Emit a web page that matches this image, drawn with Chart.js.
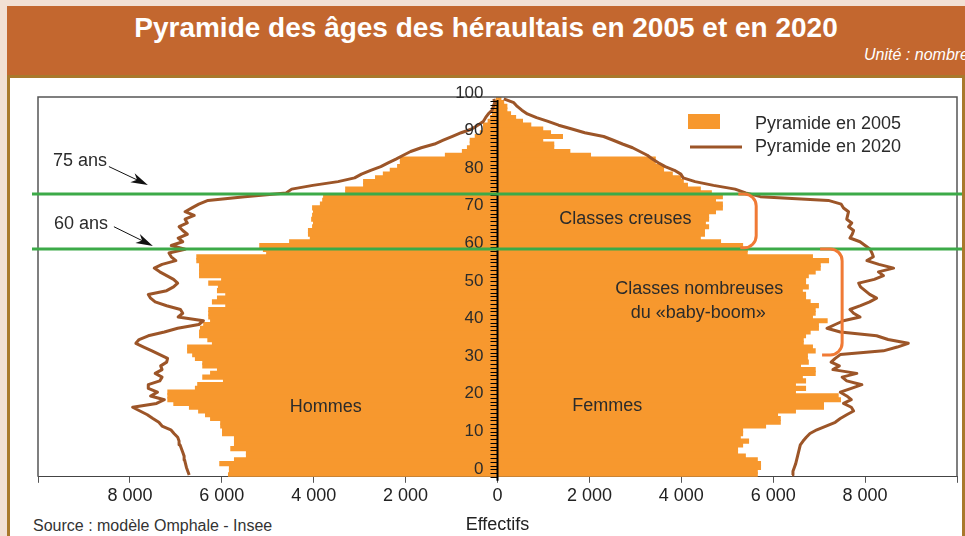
<!DOCTYPE html>
<html lang="fr">
<head>
<meta charset="utf-8">
<title>Pyramide des âges des héraultais en 2005 et en 2020</title>
<script src="https://cdn.jsdelivr.net/npm/chart.js@4.4.1/dist/chart.umd.min.js"></script>
<style>
  html, body { margin: 0; padding: 0; }
  body { width: 965px; height: 536px; background: #f2e0d4; position: relative; overflow: hidden;
         font-family: "Liberation Sans", Arial, sans-serif; }
  #entete { position: absolute; left: 7px; top: 6px; width: 958px; height: 69px; background: #c3672f; color: #fff; }
  #entete h1 { margin: 0; position: absolute; left: 0; right: 0; top: 6px; text-align: center;
               font-size: 28px; font-weight: bold; }
  #unite { position: absolute; right: -4px; top: 40px; font-size: 16px; font-style: italic; white-space: nowrap; }
  #cadre { position: absolute; left: 7px; top: 75px; width: 952px; height: 461px; background: #fff;
           border: 3px solid #a9792c; border-bottom: none; }
  #source { position: absolute; left: 33px; top: 517px; font-size: 16px; color: #333; }
  canvas { position: absolute; left: 0; top: 0; }
</style>
</head>
<body>
<div id="entete">
  <h1>Pyramide des âges des héraultais en 2005 et en 2020</h1>
  <div id="unite">Unité : nombre</div>
</div>
<div id="cadre"></div>
<div id="source">Source : modèle Omphale - Insee</div>
<canvas id="pyramide" width="965" height="536"></canvas>
<script>
// âges 0 à 100 ans
const ages = [0,1,2,3,4,5,6,7,8,9,10,11,12,13,14,15,16,17,18,19,20,21,22,23,24,25,26,27,28,29,
  30,31,32,33,34,35,36,37,38,39,40,41,42,43,44,45,46,47,48,49,50,51,52,53,54,55,56,57,58,59,
  60,61,62,63,64,65,66,67,68,69,70,71,72,73,74,75,76,77,78,79,80,81,82,83,84,85,86,87,88,89,
  90,91,92,93,94,95,96,97,98,99,100];

// Pyramide en 2005 (barres)
const hommes2005 = [5850,5830,5830,6040,5720,5460,5460,5800,5720,5720,
  5720,5980,5980,6020,6020,6240,6350,6500,6700,7040,
  7170,7170,7170,6570,6520,5960,6410,6240,6090,6410,
  6410,6570,6630,6740,6740,6200,6300,6480,6480,6460,
  6390,6240,6280,6280,6280,5910,6200,6090,5910,6090,
  6070,6280,6000,6480,6480,6480,6480,6540,6540,5020,
  5090,5170,4520,4070,4110,4110,4020,4000,4040,4020,
  4000,4020,3850,3800,3780,3300,3300,2910,2910,2650,
  2480,2330,2170,2110,2110,1130,760,650,590,590,
  480,370,300,300,200,150,110,110,90,45,20];
const femmes2005 = [5650,5650,5720,5720,5650,5390,5220,5220,5330,5460,
  5280,5330,5330,5830,6150,6150,6090,6480,7090,7090,
  7460,7410,6480,6700,6480,6700,6630,6910,6910,6590,
  6760,6740,6740,6910,6850,6650,6650,6700,6800,6980,
  6980,7170,6850,6910,6910,6980,6800,6700,6700,6630,
  6760,6700,6700,6760,6910,7020,7020,7200,6850,5430,
  5430,5330,4850,4410,4500,4500,4590,4520,4590,4590,
  4740,4890,4890,4740,4890,4650,4410,4130,4040,3980,
  3800,3610,3610,3430,3430,2020,1570,1220,1220,980,
  1410,1150,980,720,540,390,280,200,200,130,70];

// Pyramide en 2020 (courbes)
const hommes2020 = [6710,6740,6770,6790,6810,6820,6850,6880,6910,6930,
  6960,7040,7110,7300,7370,7500,7620,7780,7940,7420,
  7250,7550,7400,7600,7600,7350,7300,7450,7300,7330,
  7200,7180,7350,7520,7700,7870,7800,7600,7250,6960,
  6500,6400,6950,6850,6900,7200,7450,7550,7600,7200,
  7050,6960,7050,7200,7350,7470,7300,7000,7100,7150,
  6800,7100,6850,6950,6750,6850,6930,6750,6800,6600,
  6800,6650,6500,6300,5500,4600,4480,4020,3470,3110,
  2960,2760,2540,2380,2210,2050,1890,1660,1370,1180,
  980,790,560,430,310,260,200,115,90,60,80];
const femmes2020 = [6410,6430,6460,6490,6510,6530,6550,6570,6590,6650,
  6720,6800,6950,7150,7350,7460,7600,7750,7700,7530,
  7700,7600,7460,7700,7930,7600,7500,7820,7300,7440,
  7260,7350,7460,8400,8700,8940,8500,8250,7460,7170,
  7350,7530,7890,7750,7670,7900,8100,8250,8100,8000,
  7900,7860,8200,8400,8290,8620,8300,8040,8180,8150,
  8110,8000,7890,7670,7720,7750,7640,7710,7600,7620,
  7640,7530,7480,7200,5720,5400,5170,4700,4300,4040,
  3990,3850,3650,3500,3370,3260,3100,2940,2720,2520,
  2310,1900,1620,1330,1100,850,650,530,430,355,137];

// graduations de l'axe des âges
const agesGradues = [0,10,20,30,40,50,60,70,80,90,100];
// lignes vertes "75 ans" et "60 ans" (en âge sur l'axe)
const lignesAges = [74.7, 60.1];

const ORANGE = '#f7982e';
const BRUN = '#9c5528';
const VERT = '#3caa48';
const ACCOLADE = '#f07a35';
const TEXTE = '#2b2b2b';
const POLICE = '"Liberation Sans", Arial, sans-serif';

function millier(n) {
  return String(n).replace(/\B(?=(\d{3})+(?!\d))/g, ' ');
}

const decor = {
  id: 'decor',
  afterDatasetsDraw(chart) {
    const { ctx, chartArea: a, scales: { x, y } } = chart;
    const x0 = x.getPixelForValue(0);
    const px = v => x.getPixelForValue(v);
    const py = v => y.getPixelForValue(v);
    ctx.save();

    // cadre du graphique
    ctx.strokeStyle = '#555';
    ctx.lineWidth = 1.5;
    ctx.beginPath();
    ctx.moveTo(a.left, a.bottom);
    ctx.lineTo(a.left, a.top);
    ctx.lineTo(a.right, a.top);
    ctx.lineTo(a.right, a.bottom);
    ctx.stroke();

    // axe central des âges
    ctx.strokeStyle = '#000';
    ctx.lineWidth = 2;
    ctx.beginPath();
    ctx.moveTo(x0, py(99.7));
    ctx.lineTo(x0, a.bottom + 4);
    ctx.stroke();
    ctx.lineWidth = 1;
    ctx.beginPath();
    for (const age of ages) {
      const t = Math.round(py(age - 0.5)) + 0.5;
      ctx.moveTo(x0 - 7, t);
      ctx.lineTo(x0, t);
    }
    ctx.stroke();
    ctx.fillStyle = TEXTE;
    ctx.font = '17px ' + POLICE;
    ctx.textAlign = 'right';
    ctx.textBaseline = 'middle';
    for (const g of agesGradues) {
      ctx.fillText(String(g), x0 - 14, py(g) - 6);
    }

    // lignes vertes
    ctx.strokeStyle = VERT;
    ctx.lineWidth = 3;
    ctx.beginPath();
    for (const l of lignesAges) {
      ctx.moveTo(a.left - 6, py(l));
      ctx.lineTo(a.right + 5, py(l));
    }
    ctx.stroke();

    // flèches "75 ans" et "60 ans"
    function fleche(v1, a1, v2, a2) {
      const x1 = px(v1), y1 = py(a1), x2 = px(v2), y2 = py(a2);
      const ang = Math.atan2(y2 - y1, x2 - x1);
      ctx.strokeStyle = '#111';
      ctx.fillStyle = '#111';
      ctx.lineWidth = 1;
      ctx.beginPath();
      ctx.moveTo(x1, y1);
      ctx.lineTo(x2 - 12 * Math.cos(ang), y2 - 12 * Math.sin(ang));
      ctx.stroke();
      ctx.beginPath();
      ctx.moveTo(x2, y2);
      ctx.lineTo(x2 - 17 * Math.cos(ang) + 5 * Math.sin(ang), y2 - 17 * Math.sin(ang) - 5 * Math.cos(ang));
      ctx.lineTo(x2 - 12 * Math.cos(ang), y2 - 12 * Math.sin(ang));
      ctx.lineTo(x2 - 17 * Math.cos(ang) - 5 * Math.sin(ang), y2 - 17 * Math.sin(ang) + 5 * Math.cos(ang));
      ctx.closePath();
      ctx.fill();
    }
    fleche(-8457, 82.0, -7609, 77.1);
    fleche(-8348, 66.0, -7500, 60.9);

    // accolades
    function accolade(vDebut, vBord, aHaut, aBas) {
      const xs = px(vDebut), xe = px(vBord), yt = py(aHaut), yb = py(aBas);
      ctx.strokeStyle = ACCOLADE;
      ctx.lineWidth = 3;
      ctx.beginPath();
      ctx.moveTo(xs, yt);
      ctx.arcTo(xe, yt, xe, yb, 12);
      ctx.arcTo(xe, yb, xs, yb, 12);
      ctx.lineTo(xs + 2, yb);
      ctx.stroke();
    }
    accolade(5240, 5630, 74.7, 60.4);
    accolade(7020, 7500, 60.1, 31.9);

    // textes
    ctx.fillStyle = TEXTE;
    ctx.font = '18px ' + POLICE;
    ctx.textAlign = 'center';
    ctx.textBaseline = 'middle';
    ctx.fillText('75 ans', px(-9087), py(83.6));
    ctx.fillText('60 ans', px(-9065), py(66.6));
    ctx.fillText('Hommes', px(-3739), py(18.1));
    ctx.fillText('Femmes', px(2391), py(18.4));
    ctx.fillText('Classes creuses', px(2783), py(68.1));
    ctx.fillText('Classes nombreuses', px(4391), py(49.5));
    ctx.fillText('du «baby-boom»', px(4370), py(43.1));

    // légende
    const lx = a.right - 269, ly = a.top + 17;
    ctx.fillStyle = ORANGE;
    ctx.fillRect(lx, ly, 32, 15);
    ctx.strokeStyle = BRUN;
    ctx.lineWidth = 3;
    ctx.beginPath();
    ctx.moveTo(lx + 2, ly + 33);
    ctx.lineTo(lx + 54, ly + 33);
    ctx.stroke();
    ctx.fillStyle = TEXTE;
    ctx.textAlign = 'left';
    ctx.fillText('Pyramide en 2005', lx + 67, ly + 10);
    ctx.fillText('Pyramide en 2020', lx + 67, ly + 33);

    ctx.restore();
  }
};

new Chart(document.getElementById('pyramide'), {
  type: 'bar',
  data: {
    labels: ages,
    datasets: [
      { type: 'line', label: 'Hommes 2020', data: hommes2020.map(v => -v), borderColor: BRUN,
        borderWidth: 3, pointRadius: 0, fill: false, order: 1, borderJoinStyle: 'round' },
      { type: 'line', label: 'Femmes 2020', data: femmes2020, borderColor: BRUN,
        borderWidth: 3, pointRadius: 0, fill: false, order: 1, borderJoinStyle: 'round' },
      { label: 'Hommes 2005', data: hommes2005.map(v => -v), backgroundColor: ORANGE,
        borderWidth: 0, barPercentage: 1, categoryPercentage: 1, inflateAmount: 0.7, order: 2 },
      { label: 'Femmes 2005', data: femmes2005, backgroundColor: ORANGE,
        borderWidth: 0, barPercentage: 1, categoryPercentage: 1, inflateAmount: 0.7, order: 2 }
    ]
  },
  options: {
    indexAxis: 'y',
    responsive: false,
    animation: false,
    devicePixelRatio: 1,
    layout: { padding: { left: 38, right: 8, top: 97, bottom: 0 } },
    plugins: { legend: { display: false }, tooltip: { enabled: false } },
    scales: {
      x: {
        type: 'linear', min: -10000, max: 10000,
        ticks: {
          stepSize: 2000, autoSkip: false, maxRotation: 0, padding: 2, color: '#222',
          font: { family: POLICE, size: 18 },
          callback: v => Math.abs(v) === 10000 ? '' : millier(Math.abs(v))
        },
        grid: { drawOnChartArea: false, tickLength: 6, color: '#555' },
        border: { color: '#444', width: 1 },
        title: { display: true, text: 'Effectifs', color: '#222',
                 font: { family: POLICE, size: 18 }, padding: { top: 6, bottom: 0 } }
      },
      y: { type: 'linear', min: -0.5, max: 100.5, offset: false, display: false, stacked: true }
    }
  },
  plugins: [decor]
});
</script>
</body>
</html>
